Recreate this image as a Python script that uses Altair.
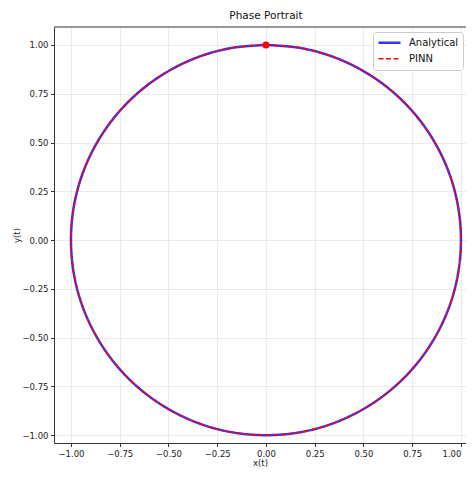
import altair as alt
import pandas as pd

# Trajectory points (x(t), y(t)) read from the phase portrait, every 10 degrees
x_vals = [0.0, 0.174, 0.342, 0.5, 0.643, 0.766, 0.866, 0.940, 0.985, 1.0,
          0.985, 0.940, 0.866, 0.766, 0.643, 0.5, 0.342, 0.174, 0.0,
          -0.174, -0.342, -0.5, -0.643, -0.766, -0.866, -0.940, -0.985, -1.0,
          -0.985, -0.940, -0.866, -0.766, -0.643, -0.5, -0.342, -0.174, 0.0]
y_vals = [1.0, 0.985, 0.940, 0.866, 0.766, 0.643, 0.5, 0.342, 0.174, 0.0,
          -0.174, -0.342, -0.5, -0.643, -0.766, -0.866, -0.940, -0.985, -1.0,
          -0.985, -0.940, -0.866, -0.766, -0.643, -0.5, -0.342, -0.174, 0.0,
          0.174, 0.342, 0.5, 0.643, 0.766, 0.866, 0.940, 0.985, 1.0]
series_names = ["Analytical", "PINN"]
series_colors = ["#3333ff", "#ff0000"]
start_x = [0.0]
start_y = [1.0]
tick_vals = [-1.0, -0.75, -0.5, -0.25, 0.0, 0.25, 0.5, 0.75, 1.0]

rows = []
for s in series_names:
    for i, (xv, yv) in enumerate(zip(x_vals, y_vals)):
        rows.append({"x": xv, "y": yv, "series": s, "idx": i})
df = pd.DataFrame(rows)
start_df = pd.DataFrame({"x": start_x, "y": start_y})

W, H = 412, 416
xscale = alt.Scale(domain=[-1.087, 1.026], nice=False, zero=False)
yscale = alt.Scale(domain=[-1.04, 1.092], nice=False, zero=False)

xaxis = alt.Axis(title="x(t)", values=tick_vals, format=".2f", labelFlush=6)
yaxis = alt.Axis(title="y(t)", values=tick_vals, format=".2f")

legend = alt.Legend(title=None, orient="none", legendX=319, legendY=5)

lines = alt.Chart(df).mark_line(interpolate="catmull-rom").encode(
    x=alt.X("x:Q", scale=xscale, axis=xaxis),
    y=alt.Y("y:Q", scale=yscale, axis=yaxis),
    color=alt.Color("series:N", scale=alt.Scale(domain=series_names, range=series_colors),
                    legend=legend),
    strokeDash=alt.StrokeDash("series:N", scale=alt.Scale(domain=series_names, range=[[1, 0], [5, 2.5]]),
                              legend=legend),
    strokeWidth=alt.StrokeWidth("series:N", scale=alt.Scale(domain=series_names, range=[2.5, 1.5]),
                                legend=None),
    detail="series:N",
    order="idx:Q",
)

dot = alt.Chart(start_df).mark_circle(color="#ff0000", opacity=1, size=50).encode(
    x=alt.X("x:Q", scale=xscale),
    y=alt.Y("y:Q", scale=yscale),
)

top_spine = alt.Chart(start_df).mark_rule(color="#333333", strokeWidth=1).encode(
    x=alt.value(0), x2=alt.value(W), y=alt.value(0)
)

chart = alt.layer(lines, dot, top_spine).properties(
    width=W, height=H,
    title=alt.TitleParams("Phase Portrait", fontSize=10.5, font="DejaVu Sans",
                          fontWeight="normal", anchor="middle", offset=5, dx=6, color="#111111"),
    autosize=alt.AutoSizeParams(type="none"),
    padding={"left": 46, "top": 19, "right": 0, "bottom": 26},
).configure_view(stroke=None).configure_axis(
    labelFont="DejaVu Sans", titleFont="DejaVu Sans", labelFontSize=8.5, titleFontSize=8.5,
    titleFontWeight="normal", labelColor="#222222", titleColor="#222222",
    tickSize=3.5, labelPadding=2.5, tickColor="#333333", domainColor="#333333", domainWidth=1,
    gridColor="#e6e6e6", gridWidth=0.8, titlePadding=1,
).configure_axisY(titlePadding=0).configure_legend(
    labelFont="DejaVu Sans", labelFontSize=10, labelColor="#111111",
    fillColor="white", strokeColor="#cccccc", cornerRadius=3, padding=4,
    symbolType="stroke", symbolSize=484, symbolStrokeWidth=2, clipHeight=13.6,
    labelOffset=7,
)

chart.save("out.html", embed_options={"renderer": "svg", "actions": False})
